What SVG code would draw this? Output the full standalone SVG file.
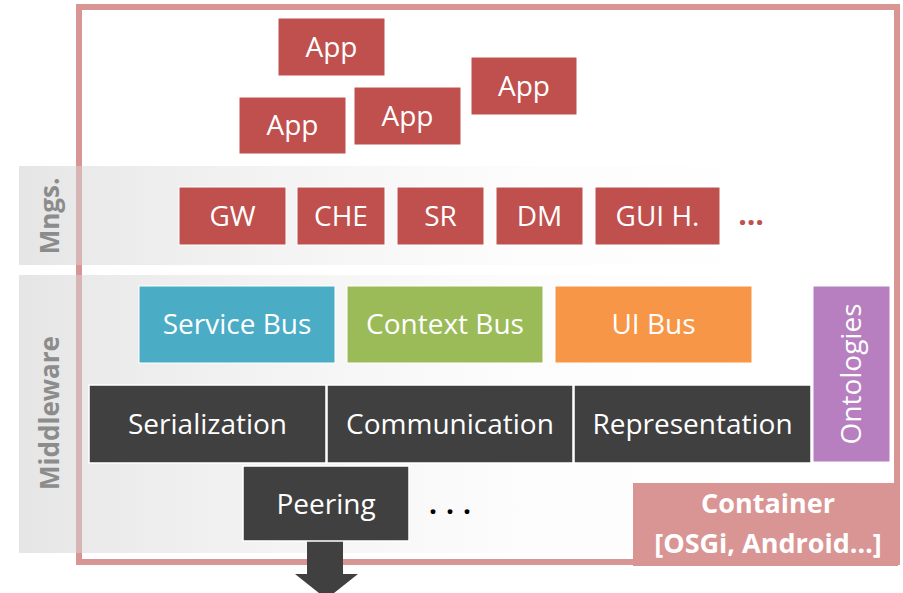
<svg xmlns="http://www.w3.org/2000/svg" width="903" height="593" viewBox="0 0 903 593">
<defs>
<linearGradient id="band" x1="0" y1="0" x2="1" y2="0" gradientUnits="objectBoundingBox">
<stop offset="0" stop-color="#d4d4d4" stop-opacity="0.6"/>
<stop offset="0.07" stop-color="#d4d4d4" stop-opacity="0.5"/>
<stop offset="0.55" stop-color="#e0e0e0" stop-opacity="0.1"/>
<stop offset="1" stop-color="#ffffff" stop-opacity="0"/>
</linearGradient>
<style>
.t{font-family:"Open Sans","Noto Sans","Liberation Sans",sans-serif;font-size:28px;fill:#ffffff;text-anchor:middle}
.lbl{font-family:"Open Sans","Noto Sans","Liberation Sans",sans-serif;font-size:26px;font-weight:bold;fill:#8c8c8c;text-anchor:middle}
.ct{font-family:"Open Sans","Noto Sans","Liberation Sans",sans-serif;font-size:27px;font-weight:bold;fill:#ffffff;text-anchor:middle}
.red{fill:#c0504d;stroke:#ffffff;stroke-width:1}
.dark{fill:#404040;stroke:#ffffff;stroke-width:1.5}
</style>
</defs>
<rect width="903" height="593" fill="#ffffff"/>
<rect id="frame" x="79" y="7" width="818" height="555" fill="none" stroke="#d99594" stroke-width="6"/>
<g id="mngs-band">
<rect x="19" y="166" width="884" height="99" fill="url(#band)"/>
<text class="lbl" transform="translate(59,216) rotate(-90)">Mngs.</text>
</g>
<g id="middleware-band">
<rect x="19" y="275" width="884" height="278" fill="url(#band)"/>
<text class="lbl" transform="translate(59,413) rotate(-90)">Middleware</text>
</g>
<g id="app1"><rect class="red" x="278" y="18" width="107" height="58"/><text class="t" x="331.5" y="57">App</text></g>
<g id="app2"><rect class="red" x="239" y="97" width="107" height="57"/><text class="t" x="292.5" y="135">App</text></g>
<g id="app3"><rect class="red" x="354" y="87" width="107" height="58"/><text class="t" x="407.5" y="126">App</text></g>
<g id="app4"><rect class="red" x="471" y="57" width="106" height="58"/><text class="t" x="524" y="96">App</text></g>
<g id="gw"><rect class="red" x="179" y="187" width="107" height="58"/><text class="t" x="232.5" y="226">GW</text></g>
<g id="che"><rect class="red" x="297" y="187" width="88" height="58"/><text class="t" x="341" y="226">CHE</text></g>
<g id="sr"><rect class="red" x="397" y="187" width="87" height="58"/><text class="t" x="440.5" y="226">SR</text></g>
<g id="dm"><rect class="red" x="496" y="187" width="87" height="58"/><text class="t" x="539.5" y="226">DM</text></g>
<g id="gui"><rect class="red" x="595" y="187" width="125" height="58"/><text class="t" x="657.5" y="226">GUI  H.</text></g>
<g id="mngs-more"><text x="751" y="225" style="font-family:'Open Sans','Noto Sans',sans-serif;font-size:30px;font-weight:bold;fill:#c0504d;text-anchor:middle">…</text></g>
<g id="service-bus"><rect x="139" y="286" width="196" height="77" fill="#4bacc6" stroke="#ffffff" stroke-width="1"/><text class="t" x="237" y="334">Service Bus</text></g>
<g id="context-bus"><rect x="347" y="286" width="196" height="77" fill="#9bbb59" stroke="#ffffff" stroke-width="1"/><text class="t" x="445" y="334">Context Bus</text></g>
<g id="ui-bus"><rect x="555" y="286" width="197" height="77" fill="#f79646" stroke="#ffffff" stroke-width="1"/><text class="t" x="653.5" y="334">UI Bus</text></g>
<g id="ontologies"><rect x="813" y="286" width="77" height="176" fill="#b77fc0" stroke="#ffffff" stroke-width="1"/><text class="t" transform="translate(861,374) rotate(-90)">Ontologies</text></g>
<g id="serialization"><rect class="dark" x="89" y="385" width="237" height="78"/><text class="t" x="207.5" y="434">Serialization</text></g>
<g id="communication"><rect class="dark" x="327" y="385" width="246" height="78"/><text class="t" x="450" y="434">Communication</text></g>
<g id="representation"><rect class="dark" x="574" y="385" width="237" height="78"/><text class="t" x="692.5" y="434">Representation</text></g>
<g id="container"><rect x="633" y="483" width="265" height="83" fill="#d99594"/><text class="ct" x="768" y="513">Container</text><text class="ct" x="768" y="553">[OSGi, Android…]</text></g>
<g id="connectors">
<polygon points="307,540 343,540 343,574 358,574 326.5,599 295,574 307,574" fill="#404040"/>
</g>
<g id="peering"><rect class="dark" x="243" y="466" width="166" height="75"/><text class="t" x="326" y="514">Peering</text></g>
<g id="peering-more"><text x="429" y="514" style="font-family:'Open Sans','Noto Sans',sans-serif;font-size:28px;font-weight:bold;fill:#000000;letter-spacing:9px">...</text></g>
</svg>
